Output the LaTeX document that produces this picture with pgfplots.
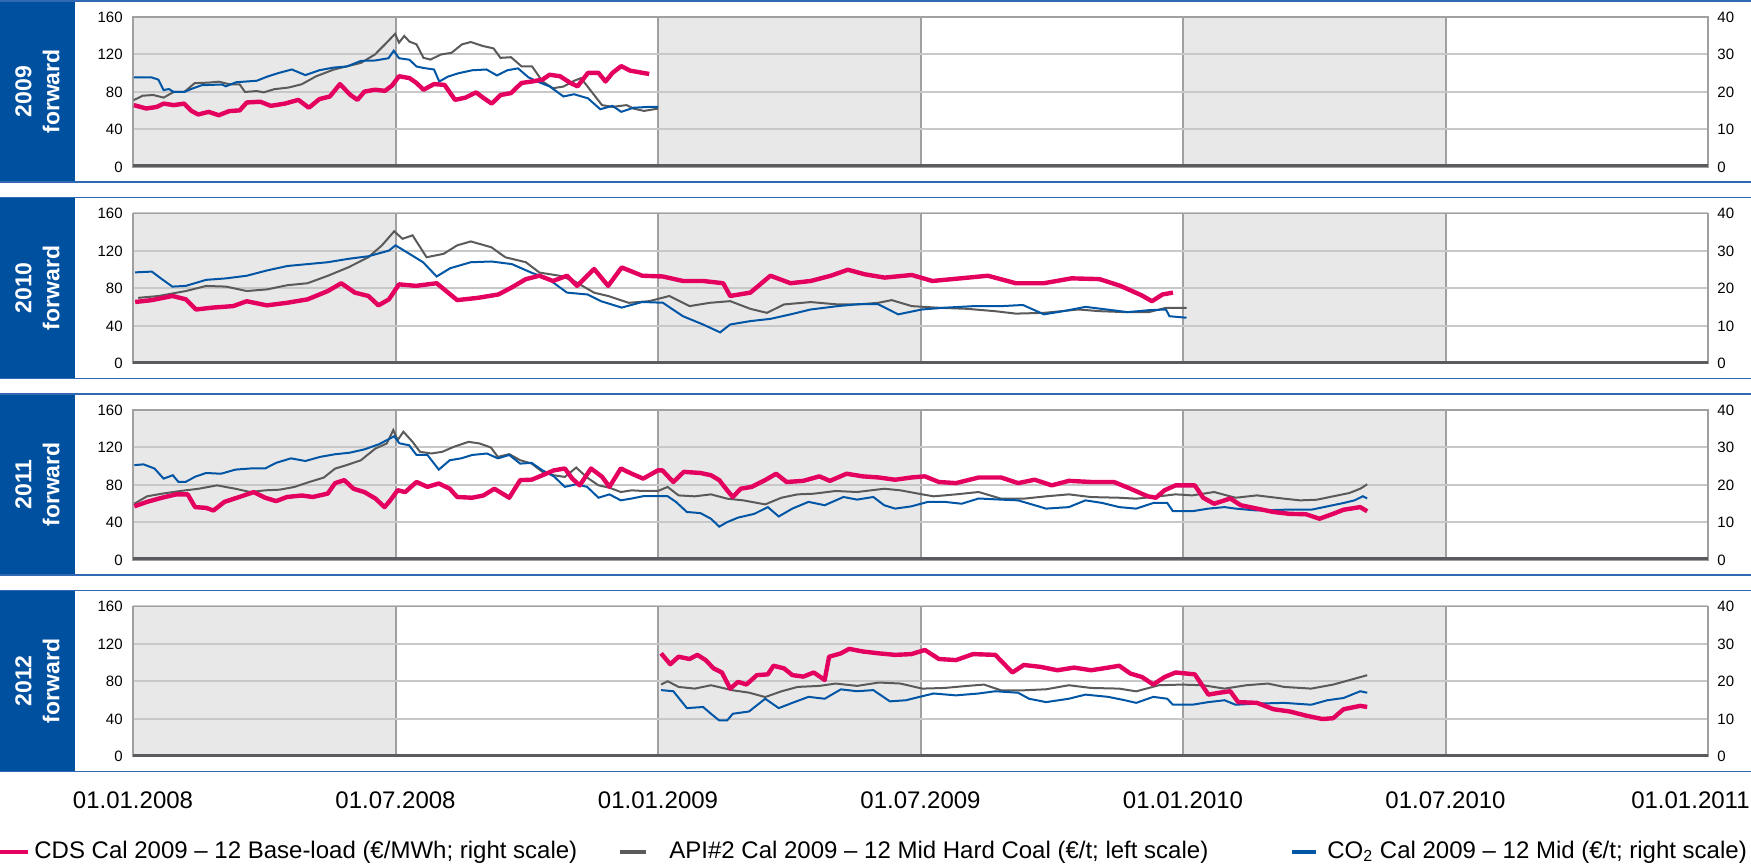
\documentclass[border=0pt]{standalone}
\usepackage{fontspec}
\setmainfont{Liberation Sans}
\usepackage{pgfplots}
\pgfplotsset{compat=1.18}
\definecolor{cds}{RGB}{228,0,94}
\definecolor{api}{RGB}{90,90,90}
\definecolor{cot}{RGB}{0,85,165}
\definecolor{boxblue}{RGB}{0,80,160}
\definecolor{bordblue}{RGB}{50,105,180}
\definecolor{bgshade}{RGB}{232,232,232}
\definecolor{hgrid}{RGB}{200,200,200}
\definecolor{vgrid}{RGB}{160,160,160}
\definecolor{axdark}{RGB}{90,90,95}

\pgfplotsset{
  panelL/.style={
    scale only axis, width=787.5pt, height=75pt, anchor=south west,
    xmin=0, xmax=36, ymin=0, ymax=160,
    xtick={0,6,...,36}, xticklabels={}, ytick={0,40,...,160},
    major tick length=0pt,
    xmajorgrids, ymajorgrids,
    x grid style={vgrid, line width=1pt},
    y grid style={hgrid, line width=1pt},
    axis line style={vgrid, line width=0.8pt},
    tick label style={font=\fontsize{7.5}{9}\selectfont},
    /pgf/number format/assume math mode=true,
    yticklabel style={anchor=east, inner sep=0pt},
    yticklabel shift=5pt,
  },
  panelR/.style={
    scale only axis, width=787.5pt, height=75pt, anchor=south west,
    xmin=0, xmax=36, ymin=0, ymax=40,
    axis x line=none, axis y line*=right,
    axis line style={draw=none},
    ytick={0,10,...,40}, major tick length=0pt,
    tick label style={font=\fontsize{7.5}{9}\selectfont},
    /pgf/number format/assume math mode=true,
    yticklabel style={anchor=west, inner sep=0pt},
    yticklabel shift=4.5pt,
  },
  apiline/.style={api, line width=1pt, mark=none},
  cotline/.style={cot, line width=1pt, mark=none},
  cdsline/.style={cds, line width=2.2pt, mark=none, line join=round},
}

\begin{document}
\begin{tikzpicture}
% ---------- panel frames, labels and shading ----------
\foreach \T/\B/\Y/\lab in {432/341.5/349/2009, 333.75/243.25/250.75/2010, 235.5/145/152.5/2011, 137.25/46.75/54.25/2012}{
  \fill[boxblue] (0pt,\B pt) rectangle (37.5pt,\T pt);
  \draw[bordblue, line width=0.9pt] (0pt,\T pt) -- (875.5pt,\T pt);
  \draw[bordblue, line width=0.9pt] (0pt,\B pt) -- (875.5pt,\B pt);
  \node[white, font={\bfseries\fontsize{11.5}{14}\selectfont}, rotate=90, align=center]
     at (18.75pt,{(\T+\B)/2*1pt}) {\lab\\forward};
  \fill[bgshade] (66.5pt,\Y pt) rectangle (197.75pt,{(\Y+75)*1pt});
  \fill[bgshade] (329pt,\Y pt) rectangle (460.25pt,{(\Y+75)*1pt});
  \fill[bgshade] (591.5pt,\Y pt) rectangle (722.75pt,{(\Y+75)*1pt});
}

% ================= 2009 forward =================
\begin{axis}[panelL, at={(66.5pt,349pt)}]
\addplot[apiline] table {
m v
0.02 71.4
0.22 76
0.46 76.8
0.70 74
0.93 80
1.17 80
1.41 89.4
1.73 90
1.96 91
2.20 88.3
2.44 88
2.56 80
2.83 81
2.99 79.6
3.23 83
3.55 84.7
3.86 88.3
4.18 96.6
4.58 103.8
4.89 107.4
5.21 111
5.53 120
5.76 130.8
5.99 142
6.08 132.6
6.20 139.8
6.32 133.7
6.48 130.8
6.64 116.4
6.80 114.6
7.04 120
7.28 121.8
7.52 130.8
7.72 133.3
8.00 129
8.24 126.5
8.40 116.4
8.64 117.1
8.88 107.4
9.12 107.4
9.36 91.2
9.60 84
9.84 85.8
10.08 91.9
10.24 94.8
10.48 80.4
10.72 66
10.96 64.1
11.28 66
11.44 62.3
11.68 59.8
12.00 62.3
};
\draw[axdark, line width=2.5pt] (rel axis cs:0,0) -- (rel axis cs:1,0);
\end{axis}
\begin{axis}[panelR, at={(66.5pt,349pt)}]
\addplot[cotline] table {
m v
0.02 23.9
0.42 23.9
0.58 23.3
0.70 20.5
0.82 20.8
0.93 20.0
1.17 20.0
1.33 20.8
1.57 21.8
2.04 22.0
2.12 21.5
2.36 22.6
2.83 23.0
3.07 24.1
3.31 25.0
3.63 26.0
3.94 24.5
4.26 25.8
4.58 26.5
4.89 26.8
5.21 28.3
5.53 28.4
5.84 29.0
5.96 31.0
6.08 29.0
6.32 28.6
6.48 26.8
6.64 26.4
6.88 26.0
7.00 22.8
7.20 24.1
7.44 25.0
7.76 25.8
8.08 26.0
8.32 24.4
8.56 25.8
8.80 26.3
9.04 23.9
9.28 22.6
9.52 21.5
9.84 18.8
10.08 19.4
10.40 18.3
10.68 15.4
10.96 16.3
11.16 14.7
11.44 15.8
11.76 16.0
12.00 16.0
};
\addplot[cdsline] table {
m v
0.02 16.5
0.30 15.6
0.54 16.0
0.70 16.9
0.93 16.5
1.17 16.9
1.33 15.0
1.49 14.0
1.73 14.7
1.96 13.8
2.20 14.9
2.44 15.1
2.60 17.2
2.91 17.4
3.15 16.3
3.47 16.9
3.78 17.9
4.02 15.8
4.26 18.1
4.50 18.8
4.73 22.1
4.97 19.2
5.13 17.9
5.29 20.1
5.53 20.6
5.76 20.3
5.92 21.7
6.08 24.2
6.32 23.7
6.48 22.4
6.64 20.6
6.88 22.1
7.12 21.9
7.36 17.9
7.60 18.5
7.84 19.9
8.00 18.5
8.20 16.9
8.40 19.2
8.64 19.7
8.88 22.4
9.12 22.8
9.36 23.3
9.52 24.6
9.76 24.2
10.00 22.4
10.16 21.5
10.40 25.1
10.64 25.1
10.80 22.8
10.96 25.1
11.16 26.9
11.36 25.7
11.60 25.2
11.80 24.8
};
\end{axis}

% ================= 2010 forward =================
\begin{axis}[panelL, at={(66.5pt,250.75pt)}]
\addplot[apiline] table {
m v
0.12 70
0.59 72
1.21 77.3
1.67 82.7
2.13 82
2.60 77.3
3.06 79
3.53 83.5
3.99 85.6
4.45 93.5
4.92 102.5
5.38 113.3
5.69 126
5.97 141
6.16 133
6.39 136.7
6.71 113.3
7.10 117
7.41 126
7.72 130.2
8.19 124
8.51 113.3
8.98 108
9.29 97
9.76 93.5
10.08 88
10.54 75.5
10.86 72
11.33 64.7
11.80 66.5
12.26 72
12.72 61.2
13.18 64.7
13.65 66.5
14.11 58.3
14.49 54
14.88 63
15.49 65.5
16.11 63
16.57 63
17.03 64.7
17.34 67.6
17.80 61.2
18.43 59.4
19.07 58.3
19.70 55.8
20.18 53.2
20.82 54
21.61 57.6
22.09 55.8
22.73 54.7
23.21 54.7
23.61 59.4
24.08 59.4
};
\draw[axdark, line width=2.5pt] (rel axis cs:0,0) -- (rel axis cs:1,0);
\end{axis}
\begin{axis}[panelR, at={(66.5pt,250.75pt)}]
\addplot[cotline] table {
m v
0.05 24.3
0.43 24.5
0.66 22.5
0.90 20.5
1.21 20.7
1.67 22.3
2.13 22.7
2.60 23.4
3.06 24.8
3.53 26.0
3.99 26.5
4.45 27.0
4.92 27.9
5.38 28.6
5.85 30.1
6.00 31.5
6.31 29.3
6.63 27.0
6.94 23.2
7.25 25.4
7.72 27.0
8.19 27.2
8.66 26.5
9.13 24.1
9.45 22.9
9.92 18.9
10.39 18.4
10.70 16.6
11.17 14.9
11.64 16.4
12.11 16.2
12.57 12.6
13.03 10.4
13.42 8.3
13.65 10.4
14.11 11.3
14.57 11.9
15.03 13.1
15.49 14.4
16.11 15.3
16.57 15.8
17.03 15.8
17.49 13.1
18.03 14.4
18.59 14.9
19.23 15.3
19.86 15.3
20.34 15.6
20.82 13.1
21.29 14.0
21.77 15.1
22.25 14.4
22.73 13.7
23.21 14.2
23.61 14.4
23.69 12.6
24.08 12.2
};
\addplot[cdsline] table {
m v
0.05 16.4
0.43 16.9
0.90 18.0
1.21 17.1
1.44 14.4
1.82 14.9
2.29 15.3
2.60 16.6
3.06 15.5
3.53 16.2
3.99 17.1
4.45 19.3
4.76 21.4
5.07 18.9
5.38 18.0
5.61 15.5
5.85 17.1
6.08 21.1
6.47 20.7
6.94 21.4
7.41 16.9
7.88 17.5
8.35 18.4
8.66 20.3
8.98 22.5
9.29 23.4
9.60 22.0
9.92 23.4
10.15 20.7
10.54 25.2
10.86 20.7
11.17 25.6
11.64 23.4
12.11 23.2
12.57 22.0
13.03 22.0
13.49 21.4
13.65 18.0
14.11 18.9
14.57 23.4
15.03 21.4
15.49 22.0
15.95 23.4
16.34 25.0
16.72 23.8
17.18 22.9
17.80 23.6
18.27 22.0
18.91 22.7
19.54 23.4
20.18 21.4
20.82 21.4
21.45 22.7
22.09 22.5
22.57 20.7
23.05 18.2
23.29 16.6
23.53 18.4
23.77 18.9
};
\end{axis}

% ================= 2011 forward =================
\begin{axis}[panelL, at={(66.5pt,152.5pt)}]
\addplot[apiline] table {
m v
0.03 60
0.32 67.9
0.66 70.7
1.08 73.6
1.50 76
1.92 79.6
2.34 76
2.68 72.5
3.02 74.3
3.35 75
3.69 77.9
4.03 83.2
4.36 87.9
4.62 97.5
4.87 101
5.21 106.4
5.54 118.9
5.80 124.3
5.95 138.6
6.05 127.9
6.18 136.8
6.39 126
6.56 115.4
6.82 113.6
7.07 115.4
7.33 120.7
7.67 126
7.92 124.3
8.18 120
8.34 110
8.60 112.9
8.85 106.4
9.11 102.9
9.36 93.9
9.62 90.4
9.87 88.6
10.13 98.6
10.38 87.9
10.64 79.6
10.89 77.1
11.15 72.5
11.40 74.3
11.66 73.6
12.00 73.6
12.22 77.9
12.47 68.9
12.84 67.9
13.21 70
13.58 65.4
13.95 63.6
14.45 59.3
14.82 66.4
15.19 70
15.56 70.7
16.06 73.6
16.55 72.5
17.17 76
17.54 74.3
18.04 70
18.30 67.9
18.81 70
19.33 72.5
19.84 65.4
20.36 65.4
20.87 67.9
21.39 70
21.90 67.1
22.54 66.4
22.93 65.4
23.45 67.9
23.83 70
24.21 68.9
24.71 72.5
25.20 66.4
25.69 68.9
26.31 65.4
26.68 63.6
27.06 64.3
27.43 67.9
27.80 71.4
28.05 76
28.21 80.7
};
\draw[axdark, line width=2.5pt] (rel axis cs:0,0) -- (rel axis cs:1,0);
\end{axis}
\begin{axis}[panelR, at={(66.5pt,152.5pt)}]
\addplot[cotline] table {
m v
0.03 25.3
0.24 25.5
0.49 24.4
0.70 21.7
0.91 22.6
1.04 20.8
1.20 20.8
1.42 22.2
1.67 23.2
2.01 23.0
2.34 24.1
2.68 24.4
3.02 24.4
3.27 25.9
3.61 27.1
3.94 26.4
4.28 27.5
4.62 28.2
4.95 28.6
5.29 29.5
5.63 30.9
5.97 33.0
6.09 31.1
6.31 30.6
6.48 28.0
6.73 28.0
6.99 24.1
7.24 26.6
7.50 27.1
7.75 28.0
8.09 28.4
8.34 27.1
8.60 28.0
8.85 25.7
9.11 25.9
9.36 23.9
9.62 22.3
9.87 19.5
10.13 20.2
10.38 19.5
10.64 16.6
10.89 17.5
11.15 15.9
11.40 16.4
11.66 17.0
12.00 17.0
12.22 17.0
12.41 15.5
12.66 12.8
12.97 12.5
13.21 11.0
13.40 8.9
13.58 10.1
13.83 11.3
14.20 12.3
14.51 14.1
14.76 11.6
15.07 13.7
15.44 15.5
15.81 14.6
16.24 16.8
16.55 16.1
16.92 16.8
17.17 14.6
17.42 13.7
17.79 14.3
18.17 15.5
18.55 15.5
18.94 15.0
19.33 16.4
19.84 16.1
20.23 15.9
20.61 14.6
20.87 13.7
21.39 14.1
21.77 15.9
22.16 15.2
22.54 14.1
22.93 13.7
23.32 15.2
23.64 15.2
23.77 13.0
24.21 13.0
24.58 13.7
24.95 14.1
25.20 13.7
25.69 13.2
26.31 13.4
26.93 13.4
27.30 14.3
27.67 15.2
27.92 15.9
28.11 17.0
28.21 16.4
};
\addplot[cdsline] table {
m v
0.03 14.3
0.32 15.5
0.66 16.6
0.99 17.5
1.25 17.5
1.42 14.1
1.67 13.9
1.84 13.2
2.09 15.5
2.43 16.8
2.76 18.1
3.02 16.6
3.27 15.7
3.52 16.8
3.86 17.2
4.11 16.8
4.45 17.7
4.62 20.5
4.83 21.3
5.04 19.0
5.29 18.1
5.54 16.4
5.75 14.1
5.88 15.9
6.05 18.6
6.22 18.1
6.48 20.8
6.73 19.5
6.99 20.4
7.24 19.0
7.41 16.8
7.75 16.6
8.01 17.2
8.26 19.0
8.60 16.6
8.85 21.3
9.11 21.4
9.36 22.6
9.62 23.9
9.87 24.4
10.04 21.7
10.21 19.9
10.47 24.4
10.72 22.2
10.89 19.5
11.15 24.4
11.40 23.0
11.66 21.7
12.00 23.9
12.10 23.9
12.35 20.8
12.59 23.5
12.97 23.2
13.21 22.6
13.40 21.3
13.58 18.6
13.71 16.8
13.89 19.0
14.14 19.5
14.45 21.3
14.70 23.0
14.94 20.8
15.32 21.1
15.69 22.3
15.93 21.1
16.31 23.0
16.68 22.3
17.05 22.0
17.42 21.4
17.79 22.0
18.10 22.3
18.42 20.8
18.81 20.5
19.33 22.0
19.84 22.0
20.23 20.5
20.61 21.4
21.00 19.9
21.39 21.1
21.90 20.8
22.42 20.8
22.80 19.0
23.19 17.0
23.38 16.6
23.58 18.6
23.83 19.9
24.27 19.9
24.46 16.6
24.71 15.0
25.08 16.4
25.32 14.6
25.69 13.7
26.07 12.8
26.44 12.3
26.81 12.2
27.12 11.0
27.43 12.3
27.67 13.4
28.05 14.1
28.21 13.0
};
\end{axis}

% ================= 2012 forward =================
\begin{axis}[panelL, at={(66.5pt,54.25pt)},
  xtick={0,6,...,30},
  xticklabels={01.01.2008,01.07.2008,01.01.2009,01.07.2009,01.01.2010,01.07.2010},
  xticklabel style={font=\fontsize{12}{14}\selectfont, anchor=north, inner sep=0pt},
  xticklabel shift=17.5pt,
  extra x ticks={36}, extra x tick labels={01.01.2011},
  extra x tick style={grid=none, xticklabel style={anchor=north east, xshift=21pt}}]
\addplot[apiline] table {
m v
12.07 76.7
12.22 80.3
12.47 74.2
12.84 72.4
13.21 76
13.71 70.6
14.08 68.1
14.45 63.4
14.82 69.5
15.19 74.2
15.69 75.3
16.06 77.8
16.55 75.3
17.05 78.9
17.54 77.8
18.04 72.4
18.55 73.1
19.07 75.3
19.45 76.7
19.84 70.6
20.36 70.6
20.87 71.7
21.39 76
21.90 73.1
22.54 72.4
22.93 69.5
23.45 76
23.96 76.7
24.46 76
24.95 72.4
25.45 76
25.94 77.8
26.31 74.2
26.93 72.4
27.43 76.7
27.80 81.4
28.21 86.7
};
\draw[axdark, line width=2.5pt] (rel axis cs:0,0) -- (rel axis cs:1,0);
\end{axis}
\begin{axis}[panelR, at={(66.5pt,54.25pt)}]
\addplot[cotline] table {
m v
12.07 17.7
12.35 17.4
12.66 12.9
13.03 13.2
13.21 11.4
13.40 9.6
13.58 9.6
13.71 11.4
14.08 12.0
14.45 15.4
14.76 12.9
15.07 14.3
15.44 15.9
15.81 15.4
16.18 17.9
16.55 17.4
16.92 17.7
17.30 14.7
17.67 15.0
17.98 15.9
18.30 16.8
18.81 16.3
19.33 16.8
19.71 17.4
20.23 17.0
20.48 15.4
20.87 14.5
21.39 15.4
21.77 16.5
22.29 15.9
22.67 15.0
22.93 14.3
23.32 15.9
23.64 15.4
23.77 13.8
24.21 13.8
24.58 14.5
24.95 15.0
25.20 13.8
25.69 14.1
26.31 14.3
26.93 13.8
27.30 15.0
27.67 15.6
28.05 17.4
28.21 17.0
};
\addplot[cdsline] table {
m v
12.07 27.5
12.28 24.6
12.47 26.6
12.72 26.0
12.90 27.1
13.09 25.7
13.27 23.5
13.46 22.4
13.65 18.1
13.83 19.9
14.02 19.2
14.26 21.7
14.51 21.9
14.64 24.2
14.88 23.5
15.07 21.7
15.32 21.3
15.56 22.4
15.81 20.4
15.91 26.6
16.18 27.5
16.37 28.7
16.68 28.0
17.05 27.5
17.42 27.1
17.79 27.3
18.10 28.4
18.42 26.0
18.81 25.7
19.20 27.3
19.71 27.1
20.10 22.4
20.36 24.4
20.74 23.9
21.13 23.0
21.51 23.7
21.90 23.0
22.29 23.7
22.54 24.2
22.80 22.1
23.06 21.2
23.32 19.2
23.58 21.2
23.83 22.4
24.27 21.9
24.46 18.6
24.58 16.5
24.83 17.0
25.08 17.4
25.26 14.5
25.69 14.3
26.07 12.6
26.44 12.0
26.81 10.9
27.18 10.0
27.43 10.2
27.67 12.6
28.05 13.5
28.21 13.2
};
\end{axis}

% ---------- legend ----------
\draw[cds, line width=2pt] (0pt,6.5pt) -- (14pt,6.5pt);
\node[anchor=west, inner sep=0pt, font=\fontsize{12}{14}\selectfont] at (17pt,6.5pt) {CDS Cal 2009 – 12 Base-load (€/MWh; right scale)};
\draw[api, line width=2pt] (310pt,6.5pt) -- (323pt,6.5pt);
\node[anchor=west, inner sep=0pt, font=\fontsize{12}{14}\selectfont] at (334.5pt,6.5pt) {API\#2 Cal 2009 – 12 Mid Hard Coal (€/t; left scale)};
\draw[cot, line width=2pt] (646pt,6.5pt) -- (658pt,6.5pt);
\node[anchor=west, inner sep=0pt, font=\fontsize{12}{14}\selectfont] at (663.5pt,6.5pt) {CO\textsubscript{2} Cal 2009 – 12 Mid (€/t; right scale)};

\pgfresetboundingbox
\useasboundingbox (0pt,0pt) rectangle (875.5pt,432.5pt);
\end{tikzpicture}
\end{document}
